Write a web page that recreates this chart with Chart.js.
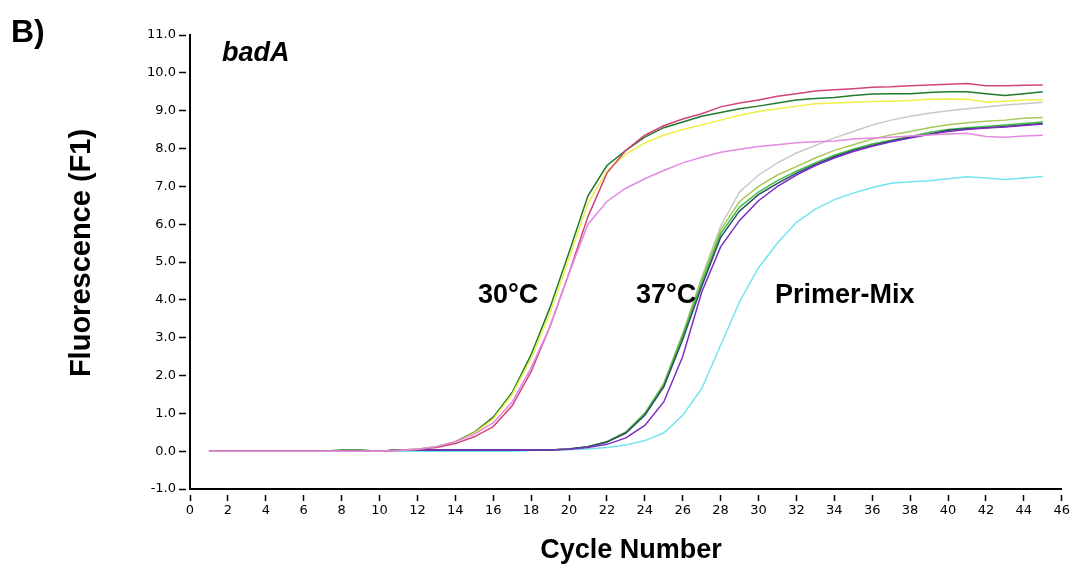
<!DOCTYPE html>
<html>
<head>
<meta charset="utf-8">
<script src="https://cdn.jsdelivr.net/npm/chart.js@4/dist/chart.umd.min.js"></script>
<style>
  html, body { margin: 0; padding: 0; background: #fff; }
  canvas { display: block; }
</style>
</head>
<body>
<canvas id="qpcr-chart" width="1072" height="567"></canvas>
<script>
// cycle numbers 1..45
const cycles = [1,2,3,4,5,6,7,8,9,10,11,12,13,14,15,16,17,18,19,20,21,22,23,24,25,26,27,28,29,30,31,32,33,34,35,36,37,38,39,40,41,42,43,44,45];

// 30°C runs
const orchid30 = [0,0,0,0,0,0,0,0,0,0,0.02,0.05,0.12,0.25,0.45,0.75,1.3,2.2,3.3,4.7,6.0,6.6,6.95,7.2,7.42,7.62,7.77,7.9,7.98,8.05,8.1,8.15,8.18,8.2,8.25,8.28,8.3,8.33,8.36,8.38,8.4,8.32,8.3,8.33,8.35];
const crimson30 = [0,0,0,0,0,0,0,0,0,0,0.02,0.05,0.1,0.2,0.38,0.65,1.2,2.1,3.3,4.7,6.2,7.35,7.95,8.35,8.6,8.78,8.92,9.1,9.2,9.28,9.38,9.45,9.52,9.55,9.58,9.62,9.63,9.66,9.68,9.7,9.72,9.66,9.66,9.67,9.68];
const yellow30 = [0,0,0,0,0,0,0,0,0,0,0.02,0.05,0.12,0.24,0.48,0.85,1.5,2.45,3.65,5.1,6.55,7.4,7.85,8.15,8.35,8.5,8.62,8.75,8.88,8.98,9.05,9.12,9.18,9.2,9.22,9.24,9.25,9.27,9.3,9.31,9.3,9.23,9.25,9.28,9.29];
const green30 = [0,0,0,0,0,0,0,0.03,0.03,0,0.03,0.05,0.12,0.25,0.5,0.9,1.55,2.55,3.8,5.25,6.75,7.55,7.95,8.3,8.55,8.7,8.85,8.95,9.05,9.12,9.2,9.28,9.32,9.35,9.4,9.44,9.45,9.45,9.48,9.5,9.5,9.45,9.4,9.45,9.5];

// 37°C runs
const purple37 = [0,0,0,0,0,0,0,0,0,0,0.03,0.03,0.03,0.03,0.03,0.03,0.03,0.03,0.03,0.05,0.1,0.18,0.35,0.68,1.3,2.5,4.2,5.4,6.1,6.62,7.0,7.3,7.55,7.75,7.92,8.06,8.18,8.28,8.37,8.45,8.5,8.54,8.57,8.61,8.65];
const navy37 = [0,0,0,0,0,0,0,0,0,0,0.03,0.03,0.03,0.03,0.03,0.03,0.03,0.03,0.03,0.06,0.12,0.24,0.48,0.95,1.7,2.95,4.35,5.65,6.35,6.78,7.08,7.35,7.58,7.78,7.95,8.08,8.2,8.3,8.38,8.48,8.52,8.55,8.58,8.62,8.66];
const green37 = [0,0,0,0,0,0,0,0,0,0,0.03,0.03,0.03,0.03,0.03,0.03,0.03,0.03,0.03,0.06,0.12,0.25,0.5,1.0,1.75,3.05,4.45,5.75,6.45,6.85,7.15,7.4,7.62,7.82,7.98,8.12,8.22,8.32,8.42,8.5,8.55,8.58,8.62,8.66,8.7];
const olive37 = [0,0,0,0,0,0,0,0,0,0,0.03,0.03,0.03,0.03,0.03,0.03,0.03,0.03,0.03,0.06,0.12,0.25,0.5,1.0,1.78,3.1,4.55,5.85,6.6,7.0,7.3,7.52,7.75,7.95,8.1,8.25,8.36,8.45,8.55,8.63,8.68,8.72,8.75,8.8,8.82];
const gray37 = [0,0,0,0,0,0,0,0,0,0,0.03,0.03,0.03,0.03,0.03,0.03,0.03,0.03,0.03,0.06,0.12,0.25,0.5,1.0,1.8,3.1,4.6,5.95,6.85,7.3,7.62,7.88,8.08,8.28,8.45,8.62,8.75,8.85,8.93,9.0,9.05,9.1,9.15,9.18,9.22];

// Primer-Mix run
const cyanMix = [0,0,0,0,0,0,0,0,0,0,0,0,0,0,0,0,0,0.02,0.03,0.04,0.06,0.1,0.16,0.28,0.48,0.95,1.65,2.8,3.95,4.85,5.5,6.05,6.4,6.65,6.82,6.97,7.08,7.12,7.15,7.2,7.25,7.22,7.18,7.22,7.26];

const xTicks = [0,2,4,6,8,10,12,14,16,18,20,22,24,26,28,30,32,34,36,38,40,42,44,46];
const yTicks = [-1,0,1,2,3,4,5,6,7,8,9,10,11];

const seriesList = [
    { name: '30°C a', values: orchid30, color: '#e48ae4' },
    { name: '30°C b', values: crimson30, color: '#d0457e' },
    { name: '30°C c', values: yellow30, color: '#f0ef45' },
    { name: '30°C d', values: green30, color: '#1f7a2e' },
    { name: '37°C a', values: purple37, color: '#7a2fc0' },
    { name: '37°C b', values: navy37, color: '#2e4a6a' },
    { name: '37°C c', values: green37, color: '#3cbf3c' },
    { name: '37°C d', values: olive37, color: '#a8c85a' },
    { name: '37°C e', values: gray37, color: '#c9c9c9' },
    { name: 'Primer-Mix', values: cyanMix, color: '#72e4ef' }
];

const TEXT_FONT = '"Liberation Sans", Arial, sans-serif';

// texts drawn on top of the chart
const textPlugin = {
    id: 'texts',
    afterDraw(chart) {
        const ctx = chart.ctx;
        ctx.save();
        ctx.fillStyle = '#000';
        ctx.textBaseline = 'middle';

        ctx.textAlign = 'left';
        ctx.font = `bold 32px ${TEXT_FONT}`;
        ctx.fillText('B)', 11, 33);

        ctx.font = `italic bold 27px ${TEXT_FONT}`;
        ctx.fillText('badA', 222, 54);

        ctx.font = `bold 27px ${TEXT_FONT}`;
        ctx.fillText('30°C', 478, 296);
        ctx.fillText('37°C', 636, 296);
        ctx.fillText('Primer-Mix', 775, 296);

        ctx.textAlign = 'center';
        ctx.font = `bold 27px ${TEXT_FONT}`;
        ctx.fillText('Cycle Number', 631, 551);

        ctx.font = `bold 29px ${TEXT_FONT}`;
        ctx.translate(82, 253);
        ctx.rotate(-Math.PI / 2);
        ctx.fillText('Fluorescence (F1)', 0, 0);
        ctx.restore();
    }
};

const ctx = document.getElementById('qpcr-chart').getContext('2d');

new Chart(ctx, {
    type: 'line',
    data: {
        labels: cycles,
        datasets: seriesList.map(s => ({
            label: s.name,
            data: s.values.map((v, i) => ({ x: cycles[i], y: v })),
            borderColor: s.color,
            borderWidth: 1.5,
            pointRadius: 0,
            fill: false,
            tension: 0
        }))
    },
    options: {
        responsive: false,
        animation: false,
        devicePixelRatio: 1,
        layout: { padding: { top: 35, right: 10, left: 0, bottom: 0 } },
        plugins: {
            legend: { display: false },
            tooltip: { enabled: false }
        },
        scales: {
            x: {
                type: 'linear',
                min: 0,
                max: 46,
                afterFit: (scale) => { scale.height = 78; },
                afterBuildTicks: (scale) => { scale.ticks = xTicks.map(v => ({ value: v })); },
                border: { display: true, color: '#000', width: 2 },
                grid: {
                    display: true,
                    drawOnChartArea: false,
                    drawTicks: true,
                    tickLength: 12,
                    tickColor: '#000',
                    tickWidth: 1.5,
                    tickBorderDash: [0, 5, 6, 100]
                },
                ticks: {
                    color: '#000',
                    padding: 2,
                    maxRotation: 0,
                    autoSkip: false,
                    font: { family: '"DejaVu Sans"', size: 13 },
                    callback: (v) => String(v)
                }
            },
            y: {
                min: -1,
                max: 11,
                afterFit: (scale) => { scale.width = 190; },
                afterBuildTicks: (scale) => { scale.ticks = yTicks.map(v => ({ value: v })); },
                border: { display: true, color: '#000', width: 2 },
                grid: {
                    display: true,
                    drawOnChartArea: false,
                    drawTicks: true,
                    tickLength: 11,
                    tickColor: '#000',
                    tickWidth: 1.5,
                    tickBorderDash: [7, 10]
                },
                ticks: {
                    color: '#000',
                    padding: 3,
                    autoSkip: false,
                    font: { family: '"DejaVu Sans"', size: 13 },
                    callback: (v) => Number(v).toFixed(1)
                }
            }
        }
    },
    plugins: [textPlugin]
});
</script>
</body>
</html>
